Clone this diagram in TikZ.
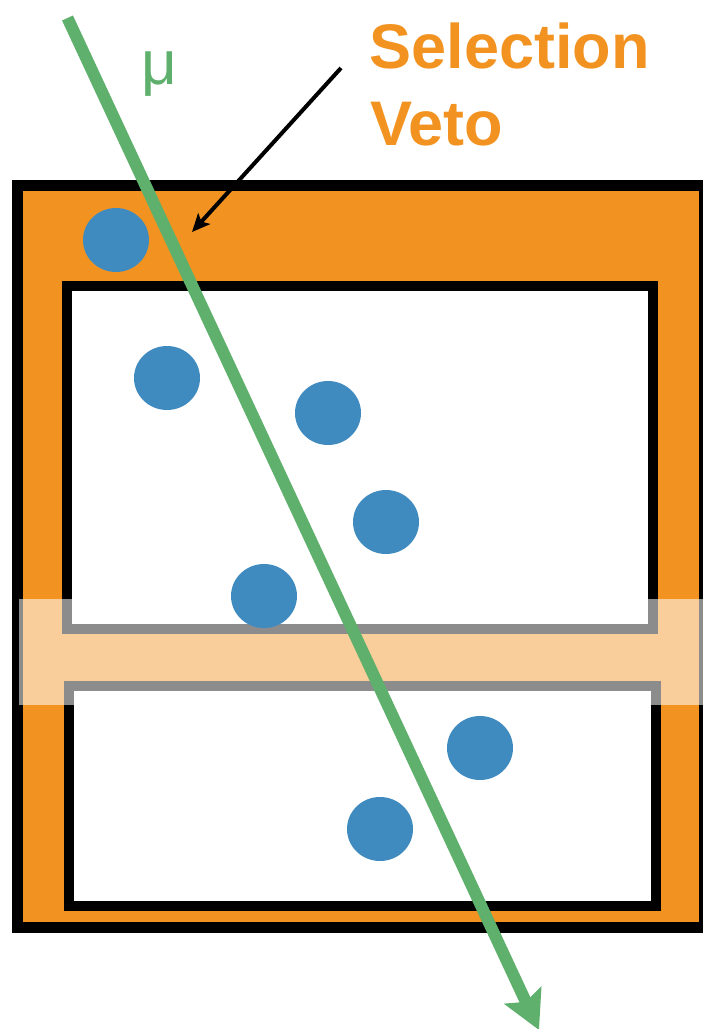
\documentclass[tikz,border=0pt]{standalone}
\usepackage{fontspec}
\setmainfont{Liberation Sans}
\usetikzlibrary{arrows.meta,shapes.geometric}
\definecolor{vetoorange}{HTML}{F29321}
\definecolor{dotblue}{HTML}{3F8ABF}
\definecolor{muongreen}{HTML}{5FB06C}
\tikzset{
  frame/.style={draw=black,line width=11pt},
  tank/.style={draw=black,fill=white,line width=10pt},
  dot/.style={ellipse,fill=dotblue,minimum width=66pt,minimum height=64pt,inner sep=0pt},
  muon/.style={draw=muongreen,line width=12pt,-{Stealth[length=38pt,width=40pt,inset=7pt]}},
  pointer/.style={draw=black,line width=4pt,-{Stealth[length=18pt,width=16pt,inset=4pt]}},
  label/.style={inner sep=0pt,anchor=base west}
}
\begin{document}
\begin{tikzpicture}[x=1pt,y=-1pt]
\useasboundingbox (0,0) rectangle (703,1029);
\begin{scope}
\clip (0,0) rectangle (703,1029);
% outer veto region
\path[frame,fill=vetoorange] (17.5,185.5) rectangle (704,927.5);
% inner tanks
\path[tank] (66.5,286) rectangle (653,628.5);
\path[tank] (69,685.5) rectangle (655.5,906);
% translucent band
\fill[white,opacity=0.55] (19,599) rectangle (703,705);
% hits
\node[dot] (h1) at (116,240) {};
\node[dot] (h2) at (167,378) {};
\node[dot] (h3) at (328,413) {};
\node[dot] (h4) at (386,522) {};
\node[dot] (h5) at (264,596) {};
\node[dot] (h6) at (480,748) {};
\node[dot] (h7) at (380,829) {};
% muon track
\coordinate (mustart) at (67.5,18);
\coordinate (muend) at (539,1030);
\draw[muon] (mustart) -- (muend);
\end{scope}
% labels
\node[label,text=muongreen,font=\fontsize{62}{70}\selectfont] (mu) at (141,84) {μ};
\node[label,text=vetoorange,font=\bfseries\fontsize{63}{77}\selectfont] (sel) at (369.5,68) {Selection};
\node[label,text=vetoorange,font=\bfseries\fontsize{63}{77}\selectfont] (veto) at (370,145) {Veto};
% pointer arrow
\coordinate (pstart) at (341,68);
\coordinate (pend) at (192,232);
\draw[pointer] (pstart) -- (pend);
\end{tikzpicture}
\end{document}
